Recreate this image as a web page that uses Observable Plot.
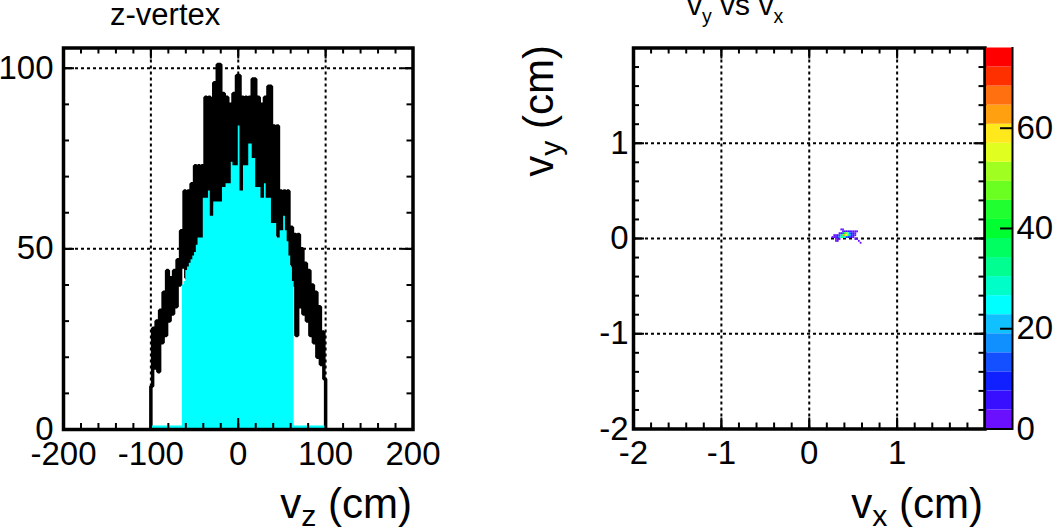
<!DOCTYPE html>
<html><head><meta charset="utf-8">
<script src="https://cdn.jsdelivr.net/npm/d3@7"></script>
<script src="https://cdn.jsdelivr.net/npm/@observablehq/plot@0.6"></script>
<style>
html,body{margin:0;padding:0;background:#fff;}
#wrap{position:relative;width:1056px;height:528px;overflow:hidden;font-family:"Liberation Sans",Arial,Helvetica,sans-serif;color:#000;background:#fff;}
.pl{position:absolute;top:0;}
.lbl{position:absolute;line-height:1;white-space:nowrap;}
.sub{font-size:0.72em;vertical-align:-0.28em;}
.tsub{font-size:0.65em;vertical-align:-0.42em;}
</style></head><body><div id="wrap"></div>
<script>
// ---------------- data ----------------
// left pad: z-vertex histograms, 2 cm bins from -100 to 100 (bin centres)
const zBinWidth = 2;
const zBinCenters = d3.range(-99, 100, zBinWidth);
const zAllCounts = [
  12,28,17,30,16,33,24,38,26,44,
  30,42,32,44,34,47,40,55,45,66,
  42,66,44,68,46,73,48,73,50,73,
  60,92,62,92,58,90,96,62,101,101,
  62,93,66,92,66,90,68,93,70,98,
  98,64,92,64,92,70,92,72,97,97,
  66,92,64,90,62,92,62,95,95,56,
  84,54,84,52,66,50,66,50,66,46,
  56,40,54,26,54,34,50,32,46,30,
  44,26,40,24,38,20,34,18,27,14];
const zCutCounts = [
  1,1,1,1,1,1,1,1,1,1,1,1,1,1,1,1,1,1,
  40,41,44,45,46,47,48,49,51,53,
  53,53,64,64,64,66,59,59,63,63,
  63,63,63,67,67,68,68,68,74,73,
  73,73,84,66,66,73,73,73,79,79,
  75,75,67,67,67,64,64,68,64,64,
  64,57,57,57,53,53,55,55,59,55,
  52,48,45,41,
  1,1,1,1,1,1,1,1,1,1,1,1,1,1,1,1,1,1];
const zDomain = [-200, 200];
const nDomain = [0, 105.6];
const zTickLabels = [-200, -100, 0, 100, 200];
const zMinorTicks = d3.range(-200, 201, 20);
const nTickLabels = [0, 50, 100];
const nMinorTicks = d3.range(0, 101, 10);
const zGrid = [-100, 0, 100];
const nGrid = [50, 100];

// right pad: v_y vs v_x 2D histogram cells (bin centres, 0.02 cm bins)
const cellBin = 0.02;
const cellVx = [0.37,0.39, 0.39,0.41,0.43,0.45,0.47,0.49,0.51,0.53,0.55,
  0.35,0.37,0.39,0.41,0.43,0.45,0.47,0.49,0.51,0.53,
  0.29,0.31,0.33,0.35,0.37,0.39,0.41,0.43,0.45,0.47,0.49,0.51,0.53,
  0.27,0.29,0.31,0.33,0.35,0.37,0.39,0.41,0.43,0.45,0.47,0.49,0.51,
  0.31,0.33,0.35,0.53,0.55, 0.31,0.33,0.57, 0.59];
const cellVy = [0.09,0.09, 0.07,0.07,0.07,0.07,0.07,0.07,0.07,0.07,0.07,
  0.05,0.05,0.05,0.05,0.05,0.05,0.05,0.05,0.05,0.05,
  0.03,0.03,0.03,0.03,0.03,0.03,0.03,0.03,0.03,0.03,0.03,0.03,0.03,
  0.01,0.01,0.01,0.01,0.01,0.01,0.01,0.01,0.01,0.01,0.01,0.01,0.01,
  -0.01,-0.01,-0.01,-0.01,-0.01, -0.03,-0.03,-0.03, -0.05];
const cellCount = [2,3, 3,5,4,6,4,3,2,3,2,
  2,6,14,38,50,26,12,8,4,2,
  2,3,5,12,22,42,62,55,32,16,9,5,3,
  2,3,4,8,16,28,36,26,14,9,6,4,3,
  2,3,2,2,3, 2,1,2, 1];
const vDomain = [-2, 2];
const vTickLabels = [-2, -1, 0, 1];
const vMajorTicks = [-1, 0, 1];
const vMinorTicks = d3.range(-2, 2.001, 0.2).map(d => +d.toFixed(1));
const vGrid = [-1, 0, 1];

// colour palette (bottom to top), z range of colour axis
const colorMax = 76;
const paletteColors = ["#6a10ff","#3810ff","#1020ff","#1450ff","#1090ff","#10c0ff","#00ffff","#00ffc8","#00ff90","#00ff60",
  "#00ff30","#20ff30","#6aff20","#a0ff20","#e0ff20","#ffe81c","#ffa010","#ff7010","#ff3000","#ff0000"];
const colorTickLabels = [0, 20, 40, 60];

// ---------------- build ----------------
const fontFam = '"Liberation Sans", Arial, Helvetica, sans-serif';
const tickFont = 33;
const wrap = document.getElementById("wrap");
const H = 528;
const fmt = d => String(d);
const dotted = {stroke: "black", strokeWidth: 2, strokeDasharray: "3,3"};

function ticksFor(values, len, pw, ph, sides, sw = 2) {
  const m = [];
  const o = {stroke: "black", strokeWidth: sw};
  if (sides.includes("b")) m.push(Plot.tickX(values, {...o, x: d => d, insetTop: ph - len}));
  if (sides.includes("t")) m.push(Plot.tickX(values, {...o, x: d => d, insetBottom: ph - len}));
  if (sides.includes("l")) m.push(Plot.tickY(values, {...o, y: d => d, insetRight: pw - len}));
  if (sides.includes("r")) m.push(Plot.tickY(values, {...o, y: d => d, insetLeft: pw - len}));
  return m;
}

// ---- left pad ----
{
  const W = 520, ml = 63, mr = W - 412.5, mt = 47.5, mb = H - 429;
  const pw = W - ml - mr, ph = H - mt - mb;
  const half = zBinWidth / 2;
  const stepAll = [{z: zBinCenters[0] - half, n: 0},
    ...zBinCenters.map((c, i) => ({z: c - half, n: zAllCounts[i]})),
    {z: zBinCenters[zBinCenters.length - 1] + half, n: zAllCounts[zAllCounts.length - 1]},
    {z: zBinCenters[zBinCenters.length - 1] + half, n: 0}];
  const stepCut = [...zBinCenters.map((c, i) => ({z: c - half, n: zCutCounts[i]})),
    {z: zBinCenters[zBinCenters.length - 1] + half, n: zCutCounts[zCutCounts.length - 1]}];
  const p = Plot.plot({
    width: W, height: H, marginLeft: ml, marginRight: mr, marginTop: mt, marginBottom: mb,
    style: {background: "transparent", fontFamily: fontFam, overflow: "visible", color: "black"},
    x: {domain: zDomain}, y: {domain: nDomain},
    marks: [
      Plot.ruleX(zGrid, {...dotted, x: d => d}),
      Plot.ruleY(nGrid, {...dotted, y: d => d}),
      Plot.line(stepAll, {x: "z", y: "n", curve: "step-after", stroke: "black", strokeWidth: 3.5, strokeLinejoin: "miter", strokeLinecap: "butt"}),
      Plot.areaY(stepCut, {x: "z", y: "n", curve: "step-after", fill: "#00ffff"}),
      ...ticksFor(zMinorTicks, 6, pw, ph, "bt"),
      ...ticksFor(zTickLabels, 11, pw, ph, "bt"),
      ...ticksFor(nMinorTicks, 6, pw, ph, "lr"),
      ...ticksFor(nTickLabels, 11, pw, ph, "lr"),
      Plot.frame({stroke: "black", strokeWidth: 3.5}),
      Plot.axisX(zTickLabels, {tickSize: 0, tickPadding: 12, fontSize: tickFont, tickFormat: fmt, label: null}),
      Plot.axisY(nTickLabels, {tickSize: 0, tickPadding: 10, fontSize: tickFont, tickFormat: fmt, label: null})
    ]
  });
  p.classList.add("pl"); p.style.left = "0px";
  wrap.appendChild(p);
}

// shared colour scale
const colorOpts = {type: "threshold", domain: d3.range(1, paletteColors.length).map(i => i * colorMax / paletteColors.length), range: paletteColors};

// ---- right pad ----
{
  const X0 = 520, W = 470, ml = 633 - X0, mr = X0 + W - 984.5, mt = 47.5, mb = H - 428.5;
  const pw = W - ml - mr, ph = H - mt - mb;
  const cells = cellVx.map((vx, i) => ({vx, vy: cellVy[i], n: cellCount[i]}));
  const hb = cellBin / 2;
  const p = Plot.plot({
    width: W, height: H, marginLeft: ml, marginRight: mr, marginTop: mt, marginBottom: mb,
    style: {background: "transparent", fontFamily: fontFam, overflow: "visible", color: "black"},
    x: {domain: vDomain}, y: {domain: vDomain}, color: colorOpts,
    marks: [
      Plot.ruleX(vGrid, {...dotted, x: d => d}),
      Plot.ruleY(vGrid, {...dotted, y: d => d}),
      Plot.rect(cells, {x1: d => d.vx - hb, x2: d => d.vx + hb, y1: d => d.vy - hb, y2: d => d.vy + hb, fill: "n"}),
      ...ticksFor(vMinorTicks, 6, pw, ph, "btlr"),
      ...ticksFor(vMajorTicks, 11, pw, ph, "btlr"),
      Plot.frame({stroke: "black", strokeWidth: 3.5}),
      Plot.axisX(vTickLabels, {tickSize: 0, tickPadding: 12, fontSize: tickFont, tickFormat: fmt, label: null}),
      Plot.axisY(vTickLabels, {tickSize: 0, tickPadding: 5, fontSize: tickFont, tickFormat: fmt, label: null})
    ]
  });
  p.classList.add("pl"); p.style.left = X0 + "px";
  wrap.appendChild(p);
}

// ---- colour bar ----
{
  const X0 = 986, W = 70, barW = 26, ml = 0, mr = W - barW, mt = 47.5, mb = H - 428.5;
  const n = paletteColors.length;
  const bands = paletteColors.map((c, i) => ({y1: i * colorMax / n, y2: (i + 1) * colorMax / n, v: (i + 0.5) * colorMax / n}));
  const p = Plot.plot({
    width: W, height: H, marginLeft: ml, marginRight: mr, marginTop: mt, marginBottom: mb,
    style: {background: "transparent", fontFamily: fontFam, overflow: "visible", color: "black"},
    y: {domain: [0, colorMax]}, color: colorOpts,
    marks: [
      Plot.rect(bands, {y1: "y1", y2: "y2", fill: "v"}),
      Plot.tickY(colorTickLabels, {y: d => d, insetLeft: barW - 12, stroke: "black", strokeWidth: 2}),
      Plot.ruleY([0], {stroke: "black", strokeWidth: 2}),
      Plot.frame({anchor: "right", stroke: "black", strokeWidth: 2}),
      Plot.axisY(colorTickLabels, {anchor: "right", tickSize: 0, tickPadding: 4, fontSize: tickFont, tickFormat: fmt, label: null})
    ]
  });
  p.classList.add("pl"); p.style.left = X0 + "px";
  wrap.appendChild(p);
}

// ---- titles and axis titles ----
const labels = [
  {html: 'z-vertex', style: 'left:110px;top:-1px;font-size:31px'},
  {html: 'v<span class="tsub">y</span> vs v<span class="tsub">x</span>', style: 'left:687px;top:-10.4px;font-size:30px'},
  {html: 'v<span class="sub">z</span> (cm)', style: 'right:644px;top:482.5px;font-size:42px'},
  {html: 'v<span class="sub">x</span> (cm)', style: 'right:73px;top:482.5px;font-size:42px'},
  {html: 'v<span class="sub">y</span> (cm)', style: 'left:517.5px;top:45px;font-size:42px;transform-origin:0 0;transform:rotate(-90deg) translateX(-100%)'}
];
for (const l of labels) {
  const d = document.createElement("div");
  d.className = "lbl"; d.setAttribute("style", l.style); d.innerHTML = l.html;
  wrap.appendChild(d);
}
</script></body></html>
